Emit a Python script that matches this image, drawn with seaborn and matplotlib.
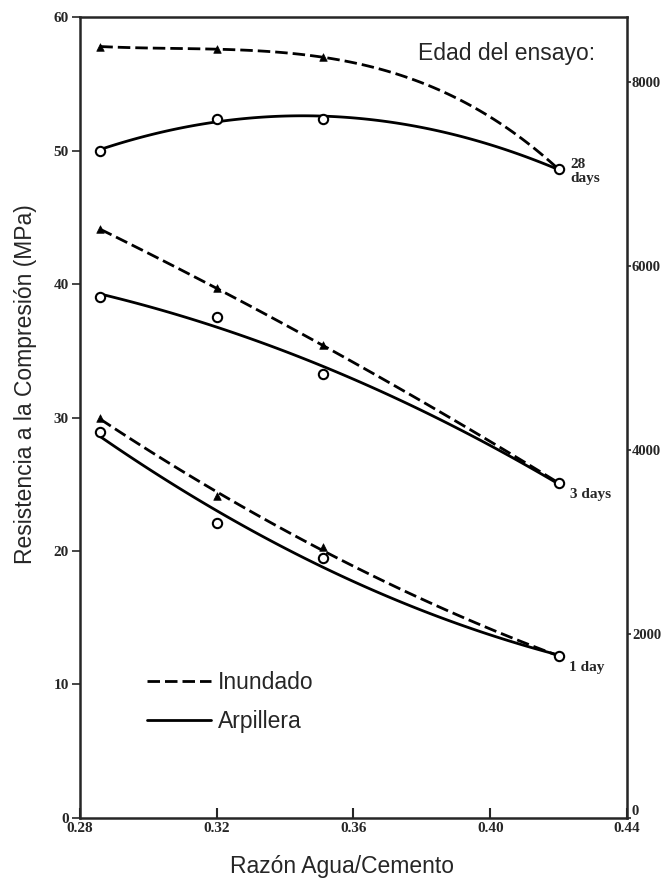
import numpy as np
import pandas as pd
import matplotlib
matplotlib.use("Agg")
import matplotlib.pyplot as plt
import seaborn as sns

# water/cement ratios of the test points
wc = [0.286, 0.32, 0.351, 0.42]

# compressive strength (MPa)
inund_28 = [57.8, 57.6, 57.0, 48.6]
arpil_28 = [50.0, 52.4, 52.4, 48.6]
inund_3 = [44.1, 39.7, 35.4, 25.1]
arpil_3 = [39.0, 37.5, 33.3, 25.1]
inund_1 = [30.0, 24.1, 20.3, 12.1]
arpil_1 = [28.9, 22.1, 19.5, 12.1]

age_labels = ["28\ndays", "3 days", "1 day"]

x_ticks = [0.28, 0.32, 0.36, 0.40, 0.44]
y_ticks = [0, 10, 20, 30, 40, 50, 60]
psi_ticks = [0, 2000, 4000, 6000, 8000]
MPA_TO_PSI = 145.04

sns.set_style("ticks")
plt.rcParams["font.family"] = ["Liberation Sans", "DejaVu Sans"]

fig = plt.figure(figsize=(6.65, 8.8), dpi=100)
ax = fig.add_axes([0.12, 0.0705, 0.823, 0.91])

dash_kws = dict(color="black", lw=2.0, ls=(0, (4.5, 1.8)))
solid_kws = dict(color="black", lw=2.0)

series = [(inund_28, arpil_28, 3), (inund_3, arpil_3, 2), (inund_1, arpil_1, 2)]
for inund, arpil, order in series:
    sns.regplot(x=wc, y=inund, order=order, ci=None, scatter=False,
                truncate=True, line_kws=dash_kws, ax=ax)
    sns.regplot(x=wc, y=arpil, order=2, ci=None, scatter=False,
                truncate=True, line_kws=solid_kws, ax=ax)
    sns.scatterplot(x=wc[:3], y=inund[:3], marker="^", s=30, color="black",
                    edgecolor="black", ax=ax, zorder=5)
    sns.scatterplot(x=wc, y=arpil, marker="o", s=45, facecolor="white",
                    edgecolor="black", linewidth=1.5, ax=ax, zorder=5)

# age labels next to the last points
age_kw = dict(fontsize=11, fontweight="bold", family="Liberation Serif",
              va="center", ha="left")
ax.text(0.4233, 48.4, age_labels[0], linespacing=1.1, **age_kw)
ax.text(0.4233, 24.2, age_labels[1], **age_kw)
ax.text(0.4230, 11.3, age_labels[2], **age_kw)

ax.text(0.4306, 57.3, "Edad del ensayo:", fontsize=16.5, ha="right", va="center")

ax.set_xlim(0.28, 0.44)
ax.set_ylim(0, 60)
ax.set_xticks(x_ticks)
ax.set_xticklabels(["0.28", "0.32", "0.36", "0.40", "0.44"])
ax.set_yticks(y_ticks)
for lab in ax.get_xticklabels() + ax.get_yticklabels():
    lab.set_family("Liberation Serif")
    lab.set_fontweight("bold")
    lab.set_fontsize(11)
ax.tick_params(axis="x", direction="in", length=7, width=1.5, pad=3)
ax.tick_params(axis="y", direction="out", length=6, width=1.2, pad=2)
for sp in ax.spines.values():
    sp.set_linewidth(1.8)

sec = ax.secondary_yaxis("right", functions=(lambda m: m * MPA_TO_PSI,
                                             lambda p: p / MPA_TO_PSI))
sec.set_yticks(psi_ticks)
sec.tick_params(direction="out", length=3, width=1.2, pad=0.5)
for lab in sec.get_yticklabels():
    lab.set_family("Liberation Serif")
    lab.set_fontweight("bold")
    lab.set_fontsize(10.5)
# lift the right-hand zero so it clears the 0.44 label
sec.get_yticklabels()[0].set_verticalalignment("bottom")

ax.set_xlabel("Razón Agua/Cemento", fontsize=16.5)
ax.set_ylabel("Resistencia a la Compresión (MPa)", fontsize=16.5)
ax.xaxis.set_label_coords(0.479, -0.046)
ax.yaxis.set_label_coords(-0.079, 0.542)

# legend
handles = [plt.Line2D([], [], **dash_kws), plt.Line2D([], [], **solid_kws)]
ax.legend(handles, ["Inundado", "Arpillera"], loc="upper left",
          bbox_to_anchor=(0.1225, 0.183), frameon=False, fontsize=16.5,
          handlelength=2.8, handletextpad=0.3, labelspacing=0.7,
          borderpad=0, borderaxespad=0)

fig.savefig("out.png", dpi=100)
